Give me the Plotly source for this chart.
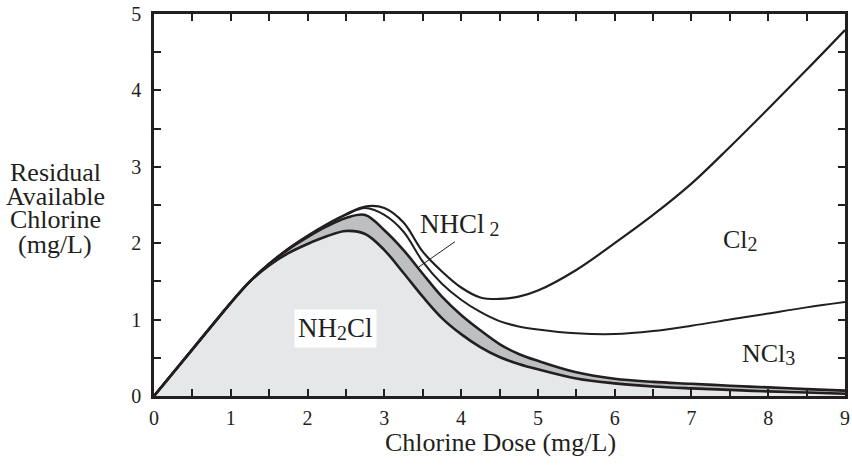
import plotly.graph_objects as go

# Chlorine dose (mg/L)
dose = [0, 0.5, 1.0, 1.25, 1.5, 1.75, 2.0, 2.25, 2.5, 2.75, 3.0, 3.25, 3.5, 3.75, 4.0,
        4.25, 4.5, 4.75, 5.0, 5.5, 6.0, 6.5, 7.0, 7.5, 8.0, 8.5, 9.0]

# cumulative residual curves (mg/L)
nh2cl = [0, 0.61, 1.22, 1.50, 1.71, 1.87, 1.99, 2.09, 2.16, 2.12, 1.91, 1.61, 1.30, 1.02, 0.81,
         0.64, 0.51, 0.42, 0.35, 0.23, 0.165, 0.125, 0.10, 0.08, 0.06, 0.045, 0.03]
nhcl2_top = [0, 0.61, 1.22, 1.50, 1.73, 1.92, 2.08, 2.22, 2.33, 2.37, 2.17, 1.91, 1.60, 1.30, 1.06,
             0.86, 0.68, 0.55, 0.46, 0.31, 0.225, 0.185, 0.16, 0.135, 0.113, 0.09, 0.07]
ncl3_top = [0, 0.61, 1.22, 1.50, 1.73, 1.93, 2.09, 2.24, 2.37, 2.46, 2.37, 2.15, 1.76, 1.47, 1.26,
            1.10, 0.98, 0.91, 0.87, 0.82, 0.81, 0.85, 0.92, 1.00, 1.08, 1.16, 1.23]
total = [0, 0.61, 1.22, 1.50, 1.73, 1.93, 2.10, 2.25, 2.38, 2.48, 2.46, 2.27, 1.89, 1.63, 1.42,
         1.29, 1.27, 1.30, 1.38, 1.65, 2.00, 2.37, 2.78, 3.26, 3.76, 4.27, 4.79]

x_ticks = [0, 1, 2, 3, 4, 5, 6, 7, 8, 9]
y_ticks = [0, 1, 2, 3, 4, 5]
y_title_lines = ["Residual", "Available", "Chlorine", "(mg/L)"]
x_title = "Chlorine Dose (mg/L)"

LINE = "#231f20"
FONT = "Liberation Serif"

W, H = 852, 470
# plot area in window pixels
L, R, T, B = 154, 845, 14, 396

fig = go.Figure()
fig.add_trace(go.Scatter(x=dose, y=nh2cl, mode="lines", fill="tozeroy",
                         fillcolor="rgb(230,231,233)", line=dict(color=LINE, width=0, shape="spline"),
                         hoverinfo="skip"))
fig.add_trace(go.Scatter(x=dose, y=nhcl2_top, mode="lines", fill="tonexty",
                         fillcolor="rgb(190,191,193)", line=dict(color=LINE, width=0, shape="spline"),
                         hoverinfo="skip"))
for ys, w in [(nh2cl, 2.6), (nhcl2_top, 2.6), (ncl3_top, 2.0), (total, 2.2)]:
    fig.add_trace(go.Scatter(x=dose, y=ys, mode="lines",
                             line=dict(color=LINE, width=w, shape="spline"), hoverinfo="skip"))

axis_common = dict(showline=True, linecolor=LINE, linewidth=2.5, mirror="ticks",
                   ticks="inside", ticklen=7, tickwidth=2, tickcolor=LINE,
                   showgrid=False, zeroline=False, automargin=False,
                   tickfont=dict(family=FONT, size=20, color=LINE),
                   minor=dict(ticks="inside", ticklen=7, tickwidth=2, tickcolor=LINE, dtick=0.5))

fig.update_xaxes(range=[0, 9], tickvals=x_ticks, ticktext=[str(v) for v in x_ticks],
                 ticklabelstandoff=2, **axis_common)
fig.update_yaxes(range=[0, 5], tickvals=y_ticks, ticktext=[str(v) for v in y_ticks],
                 ticklabelstandoff=6, **axis_common)

def px_to_paper(px, py):
    return (px - L) / (R - L), (B - py) / (B - T)

# y-axis title lines
for i, t in enumerate(y_title_lines):
    ax, ay = px_to_paper(55, 172 + i * 24)
    fig.add_annotation(xref="paper", yref="paper", x=ax, y=ay,
                       text=t, showarrow=False, xanchor="center", yanchor="middle",
                       font=dict(family=FONT, size=26, color=LINE))

ax, ay = px_to_paper(500, 442)
fig.add_annotation(xref="paper", yref="paper", x=ax, y=ay, text=x_title, showarrow=False,
                   xanchor="center", yanchor="middle",
                   font=dict(family=FONT, size=26, color=LINE))

def sub(s, gap=""):
    return '<span style="font-size:20px;baseline-shift:-3px">' + gap + s + '</span>'

fig.add_annotation(x=2.37, y=0.89, text="NH" + sub("2") + "Cl", showarrow=False,
                   bgcolor="white", borderpad=3,
                   font=dict(family=FONT, size=27, color=LINE))
fig.add_annotation(x=3.99, y=2.24, text="NHCl" + sub("2", " "), showarrow=False,
                   font=dict(family=FONT, size=27, color=LINE))
fig.add_shape(type="line", x0=3.92, y0=2.02, x1=3.45, y1=1.69,
              line=dict(color=LINE, width=1))
fig.add_annotation(x=7.64, y=2.04, text="Cl" + sub("2"),
                   showarrow=False, font=dict(family=FONT, size=26, color=LINE))
fig.add_annotation(x=8.0, y=0.55, text="NCl" + sub("3"),
                   showarrow=False, font=dict(family=FONT, size=26, color=LINE))

fig.update_layout(width=W, height=H, showlegend=False,
                  margin=dict(l=L, r=W - R, t=T, b=H - B),
                  plot_bgcolor="white", paper_bgcolor="white")

# remove the default 8px page margin so the figure sits at the window corner
fig.write_html("out.html", config={"displayModeBar": False},
               post_script="document.body.style.margin='0px';document.body.style.overflow='hidden';")
